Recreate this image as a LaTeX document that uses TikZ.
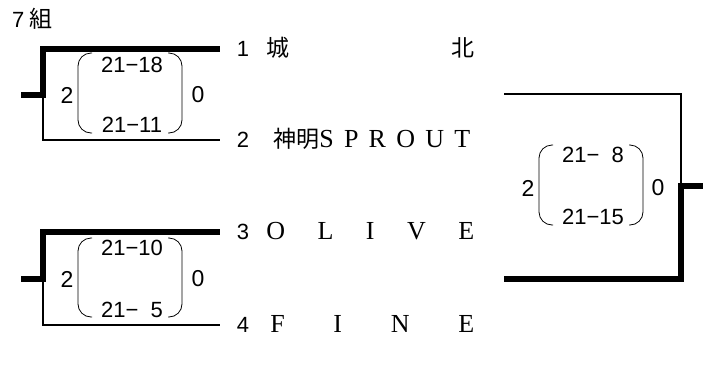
\documentclass[tikz,border=0pt]{standalone}
\usepackage{fontspec}
\setmainfont{Liberation Sans}
\newfontfamily\jp{Noto Sans CJK JP}
\newfontfamily\serifletters{Liberation Serif}
\usetikzlibrary{positioning}
\tikzstyle{win} = [draw, line width=6pt]
\tikzstyle{lose} = [draw, line width=2.6pt]
\tikzstyle{paren} = [draw, line width=0.8pt, rounded corners=13pt]
\tikzstyle{seed} = [inner sep=0pt, outer xsep=17pt, font=\fontsize{22}{26}\selectfont]
\tikzstyle{team} = [inner sep=0pt, anchor=base west, font=\serifletters\fontsize{26}{30}\selectfont]
\tikzstyle{games} = [inner sep=0pt, font=\fontsize{22}{26}\selectfont]
\tikzstyle{sets} = [inner sep=0pt, font=\fontsize{23}{26}\selectfont]
\newcommand{\kj}[1]{{\jp\fontsize{23}{27}\selectfont #1}}
% round brackets round the two games, #1 = centre x
\newcommand{\scoreparens}[3]{%
  \path[paren] (#1-40,#2) -- (#1-54,#2) -- (#1-54,#3) -- (#1-40,#3);
  \path[paren] (#1+36,#2) -- (#1+50,#2) -- (#1+50,#3) -- (#1+36,#3);}

\begin{document}
\begin{tikzpicture}[x=1pt, y=-1pt]
\useasboundingbox (0,0) rectangle (716,373);

% Place nodes
\node [anchor=west, inner sep=0pt, font=\fontsize{22}{26}\selectfont] (title) at (12,19) {7\hspace{5pt}{\jp\fontsize{23}{27}\selectfont 組}};
\node [seed] (s1) at (243,49) {1};
\node [seed] (s2) at (243,140) {2};
\node [seed] (s3) at (243,232) {3};
\node [seed] (s4) at (243,325) {4};
\node [team] (t1) at (s1.base east) {\makebox[208pt][s]{\kj{城}\hfill\kj{北}}};
\node [team] (t2) at (s2.base east) {\makebox[204pt][s]{\hspace{7pt}\kj{神明}S\hfill P\hfill R\hfill O\hfill U\hfill T}};
\node [team] (t3) at (s3.base east) {\makebox[208pt][s]{O\hfill L\hfill I\hfill V\hfill E}};
\node [team] (t4) at (s4.base east) {\makebox[208pt][s]{\hspace{4pt}F\hfill I\hfill N\hfill E}};
% match 1
\node [sets] (w1) at (67,95) {2};
\node [sets] (l1) at (198,95) {0};
\node [games] (ga1) at (132,65) {21−18};
\node [games] (gb1) at (132,125) {21−11};
\scoreparens{132}{53}{133}
% match 2
\node [sets] (w2) at (67,279) {2};
\node [sets] (l2) at (198,279) {0};
\node [games] (ga2) at (132,248) {21−10};
\node [games] (gb2) at (132,310) {21−\phantom{0}5};
\scoreparens{132}{238}{317}
% final
\node [sets] (w3) at (528,188) {2};
\node [sets] (l3) at (658,188) {0};
\node [games] (ga3) at (593,155) {21−\phantom{0}8};
\node [games] (gb3) at (593,217) {21−15};
\scoreparens{593}{145}{225}

\coordinate (j1) at (43,95);
\coordinate (j2) at (43,279);
\coordinate (j3) at (681,186);
\coordinate (e1) at (21,95);
\coordinate (e2) at (21,279);
\coordinate (e3) at (703,186);
\coordinate (f1) at (504,94);
\coordinate (f2) at (504,279);

% Draw edges
\path [win] (s1.west) -| (j1);
\path [lose] (s2.west) -| (j1);
\path [win] (e1) -- ([xshift=3pt]j1);
\path [win] (s3.west) -| (j2);
\path [lose] (s4.west) -| (j2);
\path [win] (e2) -- ([xshift=3pt]j2);
\path [lose] (f1) -| (j3);
\path [win] (f2) -| (j3);
\path [win] ([xshift=-3pt]j3) -- (e3);
\end{tikzpicture}
\end{document}
